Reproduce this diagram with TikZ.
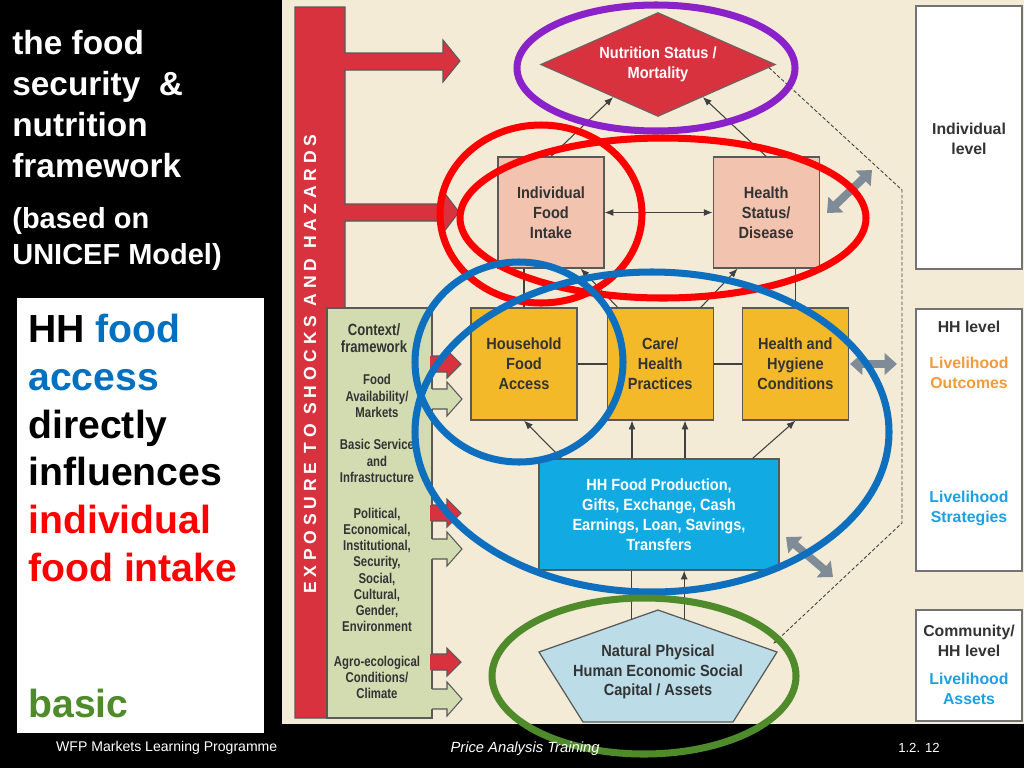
\documentclass[tikz,border=0pt]{standalone}
\usepackage{fontspec}
\setmainfont{Liberation Sans}
\newfontfamily\cnd[FakeStretch=0.9]{Liberation Sans}
\newfontfamily\cndctx[FakeStretch=0.8]{Liberation Sans}
\newfontfamily\spaced[LetterSpace=27]{Liberation Sans}
\usepackage{tikz}
\usetikzlibrary{arrows.meta,calc,positioning,shapes.geometric}
\definecolor{cream}{HTML}{F3EBD6}
\definecolor{barred}{HTML}{D8323F}
\definecolor{ctxgreen}{HTML}{D3DCB1}
\definecolor{pinkbox}{HTML}{F2C3AE}
\definecolor{yellowbox}{HTML}{F4B928}
\definecolor{bluebox}{HTML}{12AAE3}
\definecolor{assetblue}{HTML}{BCDDE8}
\definecolor{arrgray}{HTML}{7F8C97}
\definecolor{ringpurple}{HTML}{8B22C9}
\definecolor{ringred}{HTML}{FF0000}
\definecolor{ringblue}{HTML}{0F6FBF}
\definecolor{ringgreen}{HTML}{4F8B2A}
\definecolor{txtblue}{HTML}{0070C0}
\definecolor{txtgreen}{HTML}{4F8A2B}
\definecolor{outorange}{HTML}{F39A3B}
\definecolor{stratblue}{HTML}{1BA1E2}

\begin{document}
\begin{tikzpicture}[x=0.02cm,y=-0.02cm,>={Latex[length=5pt,width=4pt]},
  box/.style={draw=black!65,line width=0.7pt,minimum width=2.12cm,minimum height=2.22cm,align=center,inner sep=1pt,text=black!80,font=\cnd\bfseries\fontsize{9.2}{11.3}\selectfont},
  lvl/.style={draw=black!55,fill=white,line width=0.7pt,minimum width=2.12cm},
  lvltxt/.style={align=center,text=black!80,font=\bfseries\fontsize{9}{11.3}\selectfont},
  ctx/.style={align=center,inner sep=0pt,text=black!80,font=\cndctx\bfseries\fontsize{8.1}{9.25}\selectfont},
  ring/.style={line width=4pt},
  link/.style={draw=black!75,line width=0.6pt},
  grayarr/.style={arrgray,line width=4.5pt,{Triangle[length=7pt,width=12pt]}-{Triangle[length=7pt,width=12pt]}},
  foot/.style={text=white,font=\fontsize{8}{10}\selectfont}
]
\fill[black] (0,0) rectangle (1024,768);
\useasboundingbox (0,0) rectangle (1024,768);
\fill[cream] (282,0) rectangle (1024,724);

% slide text
\node[anchor=west,align=left,inner sep=0pt,text=white,font=\bfseries\fontsize{19}{23.2}\selectfont] (title) at (12,104) {the food\\security\ \ \&\\nutrition\\framework};
\node[anchor=west,align=left,inner sep=0pt,text=white,font=\bfseries\fontsize{16.5}{20.4}\selectfont] (based) at (12,239) {(based on\\UNICEF Model)};
\fill[white] (17,298) rectangle (264,733);
\node[anchor=west,align=left,inner sep=0pt,font=\bfseries\fontsize{22.3}{27.2}\selectfont] (claim) at (28,448) {HH \textcolor{txtblue}{food}\\\textcolor{txtblue}{access}\\directly\\influences\\\textcolor{ringred}{individual}\\\textcolor{ringred}{food intake}};
\node[anchor=west,inner sep=0pt,text=txtgreen,font=\bfseries\fontsize{22.3}{27.2}\selectfont] (basicword) at (28,703) {basic};

% shocks bar
\filldraw[fill=barred,draw=black!65,line width=0.6pt] (295,7) -- (345,7) -- (345,53) -- (443,53) -- (443,40) -- (460,61) -- (443,82) -- (443,70) -- (345,70) -- (345,204) -- (443,204) -- (443,191) -- (459,212) -- (443,233) -- (443,221) -- (345,221) -- (345,718) -- (295,718) -- cycle;
\node[rotate=90,text=white,font=\spaced\bfseries\fontsize{10}{12}\selectfont] (expo) at (310,364) {EXPOSURE TO SHOCKS AND HAZARDS};

% context column
\node[draw=black!65,fill=ctxgreen,line width=0.7pt,minimum width=2.1cm,minimum height=8.2cm] (ctxbox) at (379.5,513) {};
\foreach \y in {364,513,662} {
  \fill[barred] (430,\y-8) -- (447,\y-8) -- (447,\y-14) -- (461,\y) -- (447,\y+14) -- (447,\y+8) -- (430,\y+8) -- cycle;
  \draw[black!65,line width=0.6pt] (432,\y-8) -- (447,\y-8) -- (447,\y-14) -- (461,\y) -- (447,\y+14) -- (447,\y+8) -- (432,\y+8);
}
\foreach \y in {399,549,699} {
  \fill[ctxgreen] (430,\y-10) -- (447,\y-10) -- (447,\y-17) -- (462,\y) -- (447,\y+17) -- (447,\y+10) -- (430,\y+10) -- cycle;
  \draw[black!65,line width=0.6pt] (432,\y-10) -- (447,\y-10) -- (447,\y-17) -- (462,\y) -- (447,\y+17) -- (447,\y+10) -- (432,\y+10);
}
\node[ctx,font=\cndctx\bfseries\fontsize{9.3}{9.8}\selectfont] (ctxhead) at (374,338.5) {Context/\\framework};
\node[ctx] (avail) at (377,396) {Food\\Availability/\\Markets};
\node[ctx] (serv) at (377,461) {Basic Service\\and\\Infrastructure};
\node[ctx] (pol) at (377,570) {Political,\\Economical,\\Institutional,\\Security,\\Social,\\Cultural,\\Gender,\\Environment};
\node[ctx] (agro) at (377,677.5) {Agro-ecological\\Conditions/\\Climate};

% framework boxes
\node[diamond,aspect=2.26,fill=barred,draw=black!60,line width=0.6pt,minimum width=4.7cm,minimum height=2.08cm,inner sep=0pt,text=white,align=center,font=\cnd\bfseries\fontsize{9.2}{11.3}\selectfont] (nut) at (658,64.5) {Nutrition Status /\\Mortality};
\node[box,fill=pinkbox] (ifi) at (551,212.5) {Individual\\Food\\Intake};
\node[box,fill=pinkbox,right=2.16cm of ifi] (hsd) {Health\\Status/\\Disease};
\node[box,fill=yellowbox,minimum height=2.24cm] (hfa) at (524,364) {Household\\Food\\Access};
\node[box,fill=yellowbox,minimum height=2.24cm,right=0.58cm of hfa] (care) {Care/\\Health\\Practices};
\node[box,fill=yellowbox,minimum height=2.24cm,right=0.56cm of care] (hhc) {Health and\\Hygiene\\Conditions};
\node[box,fill=bluebox,text=white,minimum width=4.8cm] (hhp) at (659,514.5) {HH Food Production,\\Gifts, Exchange, Cash\\Earnings, Loan, Savings,\\Transfers};
\coordinate (ptop) at (658,610);
\coordinate (pr) at (777,652);
\coordinate (pbr) at (733,722);
\coordinate (pbl) at (583,722);
\coordinate (pl) at (539,652);
\filldraw[fill=assetblue,draw=black!65,line width=0.7pt] (ptop) -- (pr) -- (pbr) -- (pbl) -- (pl) -- cycle;
\node[align=center,text=black!80,font=\cnd\bfseries\fontsize{9.2}{11}\selectfont] (cap) at (658,672) {Natural Physical\\Human Economic Social\\Capital / Assets};

% links
\draw[link,->] (ifi.north) -- ($(nut.west)!0.62!(nut.south)$);
\draw[link,->] (hsd.north) -- ($(nut.east)!0.62!(nut.south)$);
\draw[link,<->] (ifi) -- (hsd);
\draw[link] (hfa.north) -- (hfa.north |- ifi.south);
\draw[link] (hhc.north) -- (hhc.north |- hsd.south);
\draw[link,->] ($(care.north west)+(11,0)$) -- ($(ifi.south east)+(-24,0)$);
\draw[link,->] ($(care.north east)+(-13,0)$) -- ($(hsd.south west)+(25,0)$);
\draw[link] (hfa) -- (care);
\draw[link] (care) -- (hhc);
\coordinate (hpa) at ($(hhp.north)+(-27,0)$);
\coordinate (hpb) at ($(hhp.north)+(26,0)$);
\draw[link,->] ($(hhp.north west)+(23,0)$) -- (hfa.south);
\draw[link,->] (hpa) -- (hpa |- care.south);
\draw[link,->] (hpb) -- (hpb |- care.south);
\draw[link,->] ($(hhp.north east)+(-27,0)$) -- (hhc.south);
\coordinate (pa) at ($(pl)!0.78!(ptop)$);
\coordinate (pb) at ($(pr)!0.78!(ptop)$);
\draw[link] (pa) -- (pa |- hhp.south);
\draw[link,->] (pb) -- (pb |- hhp.south);
\draw[black!75,line width=0.5pt,dash pattern=on 2pt off 1.2pt,-{Latex[length=4pt,width=3pt]}] ($(nut.east)!0.06!(nut.south)$) -- (902,190) -- (902,523) -- ($(pr)+(-4,-8)$);

% levels
\node[lvl,minimum height=5.26cm] (lvlone) at (969,137.5) {};
\node[lvltxt] (indl) at (969,138.5) {Individual\\level};
\node[lvl,minimum height=5.24cm] (lvltwo) at (969,440) {};
\node[lvltxt] (hhl) at (969,327) {HH level};
\node[lvltxt,text=outorange] (outc) at (969,373) {Livelihood\\Outcomes};
\node[lvltxt,text=stratblue] (strat) at (969,508.5) {Livelihood\\Strategies};
\node[lvl,minimum height=2.22cm] (lvlthree) at (969,665.5) {};
\node[lvltxt] (comm) at (969,641) {Community/\\HH level};
\node[lvltxt,text=stratblue] (assets) at (969,688.5) {Livelihood\\Assets};
\coordinate (ga) at (827,213);
\coordinate (gb) at (872,170);
\coordinate (gc) at (850,364);
\coordinate (gd) at (897,364);
\coordinate (ge) at (786,537);
\coordinate (gf) at (833,577);
\draw[grayarr] (ga) -- (gb);
\draw[grayarr] (gc) -- (gd);
\draw[grayarr] (ge) -- (gf);

% highlight rings
\draw[ring,ringpurple] (656,68) ellipse [x radius=139,y radius=63];
\draw[ring,ringred] (541,214) ellipse [x radius=101,y radius=89];
\draw[ring,ringred] (663,218) ellipse [x radius=203,y radius=80];
\draw[ring,ringblue] (519,362) ellipse [x radius=104,y radius=100];
\draw[ring,ringblue] (652,432) ellipse [x radius=237,y radius=160];
\draw[ring,ringgreen] (644,676) ellipse [x radius=152,y radius=78];

% footer
\node[foot,anchor=west] (wfp) at (50,748) {WFP Markets Learning Programme};
\node[foot,font=\itshape\fontsize{8.4}{10}\selectfont] (pat) at (525,749) {Price Analysis Training};
\node[foot,font=\fontsize{7.5}{10}\selectfont] (slide) at (919,748) {1.2. 12};
\end{tikzpicture}
\end{document}
